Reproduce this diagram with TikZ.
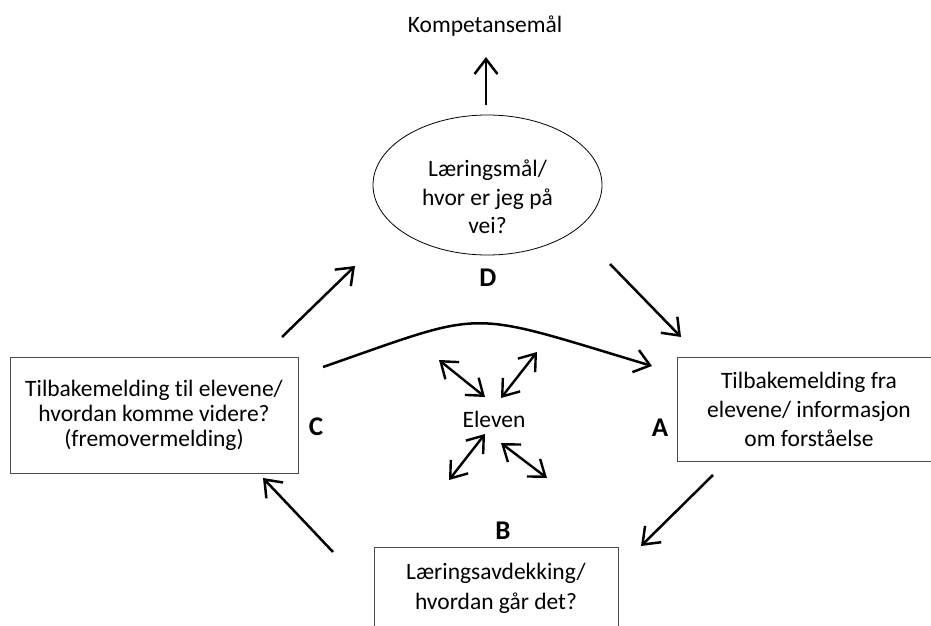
\documentclass[tikz,border=0pt]{standalone}
\usepackage{fontspec}
\setmainfont{Carlito}[Ligatures={NoCommon}]
\usetikzlibrary{arrows.meta,shapes.geometric}

\begin{document}
\begin{tikzpicture}[x=1pt,y=-1pt,
    txt/.style={font=\fontsize{23.5}{28.5}\selectfont, align=center, inner sep=0pt},
    box/.style={txt, draw=black!70, line width=0.8pt},
    letter/.style={font=\fontsize{27}{30}\selectfont\bfseries, inner sep=0pt},
    flow/.style={line width=2.5pt, -{Straight Barb[length=15pt,width=23pt]}},
    twoway/.style={line width=2.4pt, {Straight Barb[length=15pt,width=22pt]}-{Straight Barb[length=15pt,width=22pt]}}]

    \useasboundingbox (0,0) rectangle (931,626);
    \clip (0,0) rectangle (931,626);

    % goal and the ring of boxes
    \node[txt, anchor=base] (komp) at (485,33) {Kompetansemål};
    \node[draw, ellipse, line width=0.8pt, minimum width=229pt, minimum height=140pt] (goal) at (487.5,185) {};
    \node[txt] (goaltxt) at (487.5,197) {Læringsmål/\\hvor er jeg på\\vei?};

    \node[box, font=\fontsize{23.5}{29}\selectfont, minimum width=264pt, minimum height=104pt] (fra) at (809,409)
        {Tilbakemelding fra\\elevene/ informasjon\\om forståelse};
    \node[box, font=\fontsize{23.5}{30}\selectfont, minimum width=244pt, minimum height=82pt] (avd) at (496,588)
        {Læringsavdekking/\\hvordan går det?};
    \node[box, font=\fontsize{23.5}{25}\selectfont, minimum width=288pt, minimum height=116pt] (til) at (154,415)
        {Tilbakemelding til elevene/\\hvordan komme videre?\\(fremovermelding)};

    \node[txt] (elev) at (494,419) {Eleven};

    \node[letter] (lA) at (660,428) {A};
    \node[letter] (lB) at (503,531) {B};
    \node[letter] (lC) at (316,427) {C};
    \node[letter] (lD) at (488,278) {D};

    % arrow ends
    \coordinate (up0) at (486,105);
    \coordinate (up1) at (486,57);
    \coordinate (cd0) at (282,337);
    \coordinate (cd1) at (355,266);
    \coordinate (da0) at (610,264);
    \coordinate (da1) at (681,337);
    \coordinate (ab0) at (713,475);
    \coordinate (ab1) at (641,546);
    \coordinate (bc0) at (333,552);
    \coordinate (bc1) at (263,478);
    \coordinate (ca0) at (323,367);
    \coordinate (ca1) at (652,366);

    \draw[flow] (up0) -- (up1);
    \draw[flow] (cd0) -- (cd1);
    \draw[flow] (da0) -- (da1);
    \draw[flow] (ab0) -- (ab1);
    \draw[flow] (bc0) -- (bc1);
    \draw[flow] (ca0) .. controls (490,309) and (462,309) .. (ca1);

    % around the pupil
    \coordinate (ul0) at (439,360);
    \coordinate (ul1) at (485,397);
    \coordinate (ur0) at (537,352);
    \coordinate (ur1) at (501,398);
    \coordinate (ll0) at (485,434);
    \coordinate (ll1) at (449,480);
    \coordinate (lr0) at (501,443);
    \coordinate (lr1) at (547,478);

    \draw[twoway] (ul0) -- (ul1);
    \draw[twoway] (ur0) -- (ur1);
    \draw[twoway] (ll0) -- (ll1);
    \draw[twoway] (lr0) -- (lr1);

\end{tikzpicture}
\end{document}
